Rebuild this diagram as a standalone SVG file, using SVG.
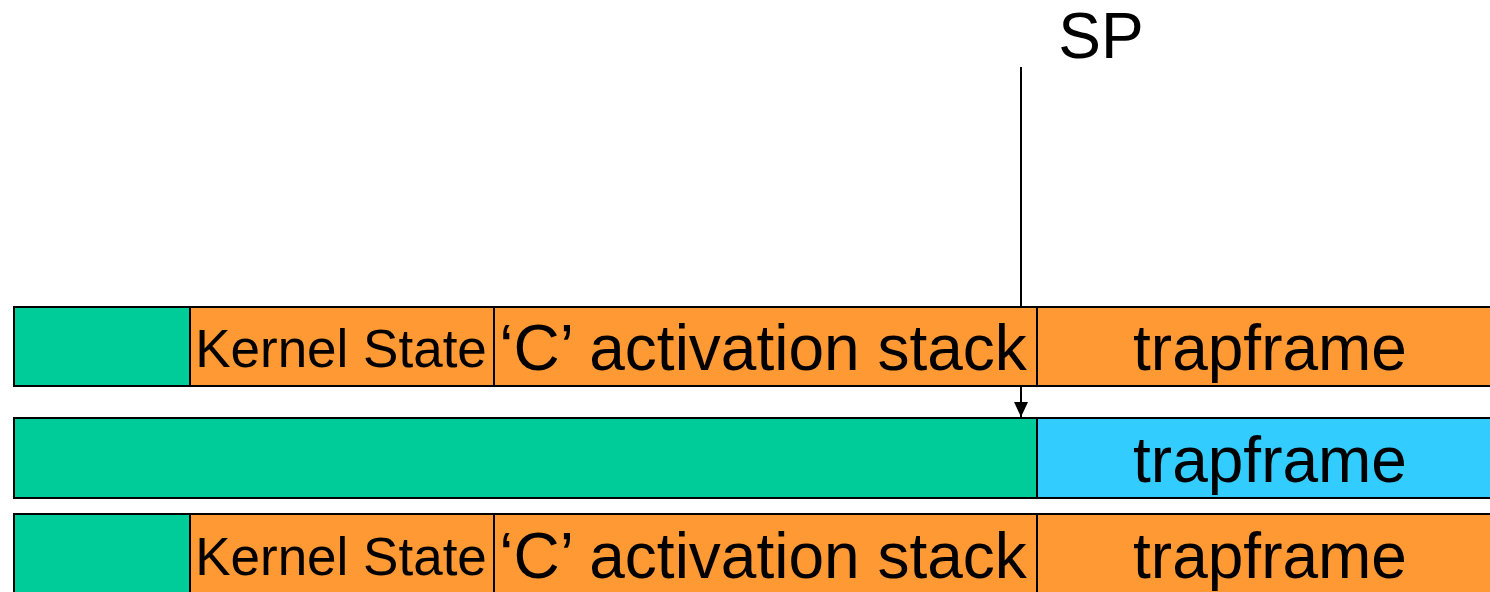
<svg xmlns="http://www.w3.org/2000/svg" width="1490" height="592" viewBox="0 0 1490 592">
<style>
.g{fill:#00CC99;stroke:#000;stroke-width:2}
.o{fill:#FF9933;stroke:#000;stroke-width:2}
.b{fill:#33CCFF;stroke:#000;stroke-width:2}
.t{font-family:"Liberation Sans",Arial,sans-serif;fill:#000;text-anchor:middle}
.big{font-size:64px}
.small{font-size:53px}
</style>
<defs>
<marker id="ah" markerWidth="16" markerHeight="16" viewBox="0 0 16 16" refX="15" refY="8" orient="auto" markerUnits="userSpaceOnUse">
<path d="M0,1 L15,8 L0,15 Z" fill="#000"/>
</marker>
</defs>
<g id="connectors">
<line x1="1021" y1="67" x2="1021" y2="417" stroke="#000" stroke-width="2" marker-end="url(#ah)"/>
</g>
<g id="row1">
<rect class="g" x="14" y="307" width="176" height="79"/>
<g id="r1-kernel"><rect class="o" x="190" y="307" width="304" height="79"/><text class="t small" x="341" y="367">Kernel State</text></g>
<g id="r1-c"><rect class="o" x="494" y="307" width="543" height="79"/><text class="t big" x="763" y="370">‘C’ activation stack</text></g>
<g id="r1-trap"><rect class="o" x="1037" y="307" width="470" height="79"/><text class="t big" x="1270" y="370">trapframe</text></g>
</g>
<g id="row2">
<rect class="g" x="14" y="418" width="1023" height="80"/>
<g id="r2-trap"><rect class="b" x="1037" y="418" width="470" height="80"/><text class="t big" x="1270" y="482">trapframe</text></g>
</g>
<g id="row3">
<rect class="g" x="14" y="514" width="176" height="90"/>
<g id="r3-kernel"><rect class="o" x="190" y="514" width="304" height="90"/><text class="t small" x="341" y="575">Kernel State</text></g>
<g id="r3-c"><rect class="o" x="494" y="514" width="543" height="90"/><text class="t big" x="763" y="578">‘C’ activation stack</text></g>
<g id="r3-trap"><rect class="o" x="1037" y="514" width="470" height="90"/><text class="t big" x="1270" y="578">trapframe</text></g>
</g>
<g id="sp-label"><text class="t big" x="1101" y="58">SP</text></g>
</svg>
